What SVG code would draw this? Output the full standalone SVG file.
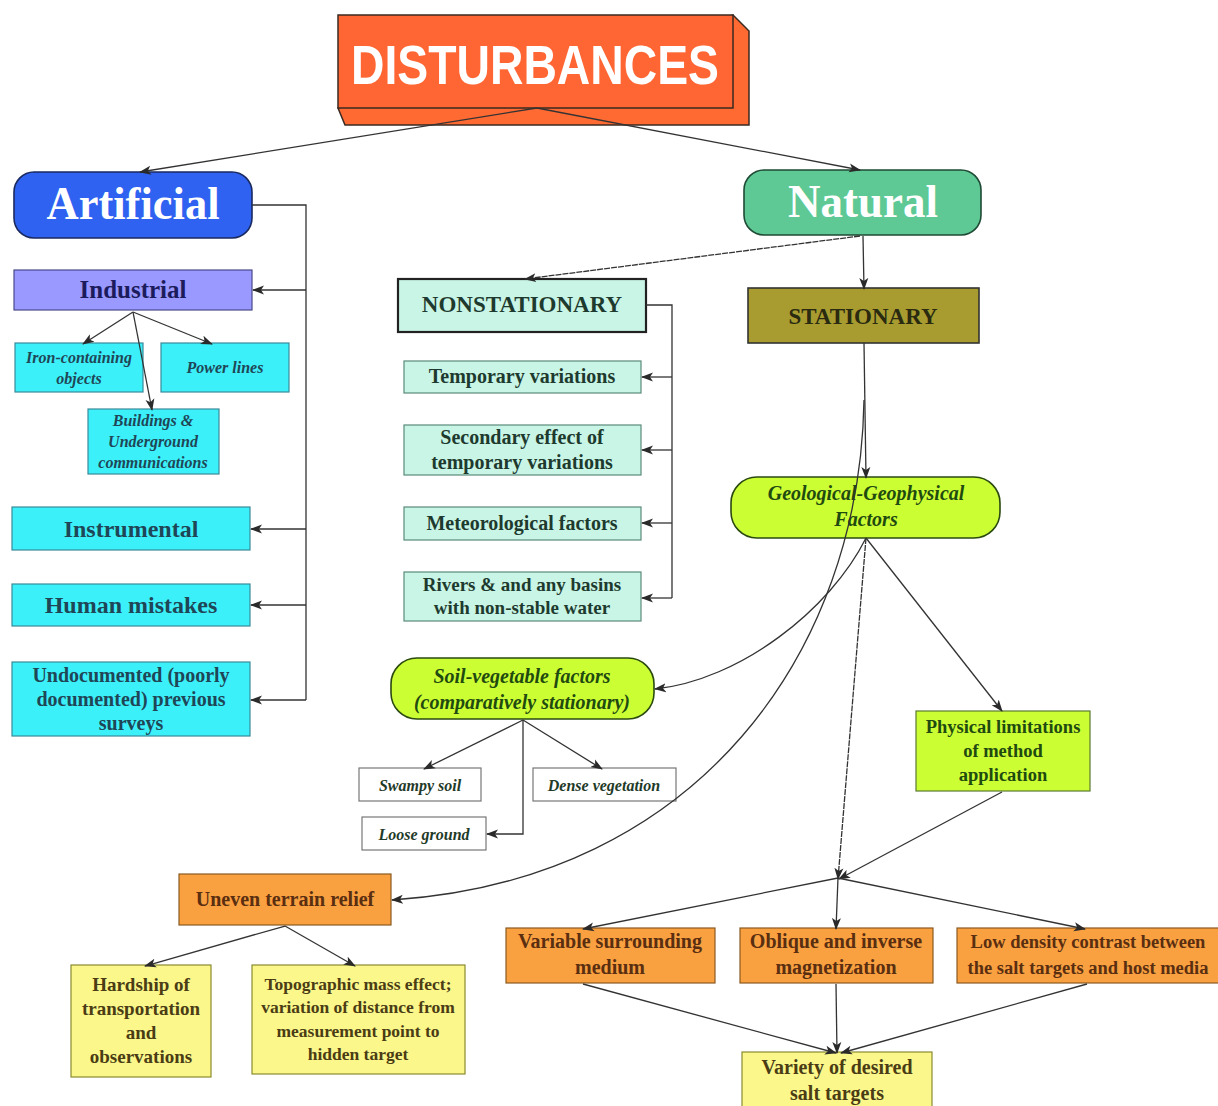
<svg xmlns="http://www.w3.org/2000/svg" width="1218" height="1106" viewBox="0 0 1218 1106">
<defs>
<marker id="arr" markerUnits="userSpaceOnUse" markerWidth="12" markerHeight="10" refX="11" refY="5" orient="auto">
<path d="M0,0.5 L12,5 L0,9.5 L3,5 Z" fill="#2a2a2a"/>
</marker>
</defs>
<style>
text{font-family:"Liberation Serif","Times New Roman",serif;font-weight:bold;text-anchor:middle}
.c{stroke:#333;stroke-width:1.3;fill:none}
.ca{stroke:#333;stroke-width:1.3;fill:none;marker-end:url(#arr)}
.cy{fill:#3cf0fa;stroke:#3a8a9a;stroke-width:1.2}
.cyt{fill:#1f4656}
.mint{fill:#c8f5e6;stroke:#5a8a7a;stroke-width:1.2}
.mintt{fill:#1e3a2e;font-size:20px}
.lime{fill:#ccff33;stroke:#2a4a10;stroke-width:1.6}
.limet{fill:#1f4a10}
.org{fill:#f9a040;stroke:#8a5a20;stroke-width:1.2}
.orgt{fill:#5a2e10;font-size:20px}
.yel{fill:#fbf78a;stroke:#8a8a30;stroke-width:1.2}
.yelt{fill:#4a3c14;font-size:19px}
.wh{fill:#fff;stroke:#777;stroke-width:1.2}
.wht{fill:#1f3a28;font-size:16px;font-style:italic}
</style>

<g id="n-disturbances">
<path d="M733,15 L749,31 L749,125 L345,125 L338,108 Z" fill="#ff6a33" stroke="#3a2a20" stroke-width="1.5"/>
<rect x="338" y="15" width="395" height="93" fill="#ff6633" stroke="#3a2a20" stroke-width="1.5"/>
<text x="535" y="84" style="font-family:'Liberation Sans',Arial,sans-serif;font-size:56px;fill:#fff" textLength="368" lengthAdjust="spacingAndGlyphs">DISTURBANCES</text>
</g>

<g id="n-artificial">
<rect x="14" y="172" width="238" height="66" rx="20" fill="#2f62f0" stroke="#1a2a60" stroke-width="1.6"/>
<text x="133" y="219" style="font-size:46px;fill:#fff" textLength="173" lengthAdjust="spacingAndGlyphs">Artificial</text>
</g>

<g id="n-industrial">
<rect x="14" y="270" width="238" height="40" fill="#9999ff" stroke="#4a4a8a" stroke-width="1.2"/>
<text x="133" y="298" style="font-size:25px;fill:#1c1c5c">Industrial</text>
</g>

<g id="n-iron">
<rect class="cy" x="15" y="343" width="128" height="49"/>
<text class="cyt" x="79" y="363" style="font-size:16px;font-style:italic">Iron-containing</text>
<text class="cyt" x="79" y="384" style="font-size:16px;font-style:italic">objects</text>
</g>

<g id="n-power">
<rect class="cy" x="161" y="343" width="128" height="49"/>
<text class="cyt" x="225" y="373" style="font-size:16px;font-style:italic">Power lines</text>
</g>

<g id="n-buildings">
<rect class="cy" x="88" y="409" width="131" height="65"/>
<text class="cyt" x="153" y="426" style="font-size:16px;font-style:italic">Buildings &amp;</text>
<text class="cyt" x="153" y="447" style="font-size:16px;font-style:italic">Underground</text>
<text class="cyt" x="153" y="468" style="font-size:16px;font-style:italic">communications</text>
</g>

<g id="n-instrumental">
<rect class="cy" x="12" y="507" width="238" height="43"/>
<text class="cyt" x="131" y="537" style="font-size:24px">Instrumental</text>
</g>

<g id="n-human">
<rect class="cy" x="12" y="584" width="238" height="42"/>
<text class="cyt" x="131" y="613" style="font-size:24px">Human mistakes</text>
</g>

<g id="n-undocumented">
<rect class="cy" x="12" y="662" width="238" height="74"/>
<text class="cyt" x="131" y="682" style="font-size:20px">Undocumented (poorly</text>
<text class="cyt" x="131" y="706" style="font-size:20px">documented) previous</text>
<text class="cyt" x="131" y="730" style="font-size:20px">surveys</text>
</g>

<g id="n-natural">
<rect x="744" y="170" width="237" height="65" rx="20" fill="#5ec995" stroke="#1f4a35" stroke-width="1.6"/>
<text x="863" y="217" style="font-size:47px;fill:#fff" textLength="150" lengthAdjust="spacingAndGlyphs">Natural</text>
</g>

<g id="n-nonstationary">
<rect x="398" y="279" width="248" height="53" fill="#c8f5e6" stroke="#222" stroke-width="2.2"/>
<text x="522" y="312" style="font-size:23px;fill:#1e3a2e">NONSTATIONARY</text>
</g>

<g id="n-temporary">
<rect class="mint" x="404" y="361" width="237" height="32"/>
<text class="mintt" x="522" y="383">Temporary variations</text>
</g>

<g id="n-secondary">
<rect class="mint" x="404" y="425" width="237" height="50"/>
<text class="mintt" x="522" y="444">Secondary effect of</text>
<text class="mintt" x="522" y="469">temporary variations</text>
</g>

<g id="n-meteorological">
<rect class="mint" x="404" y="507" width="237" height="33"/>
<text class="mintt" x="522" y="530">Meteorological factors</text>
</g>

<g id="n-rivers">
<rect class="mint" x="404" y="572" width="237" height="49"/>
<text class="mintt" x="522" y="591" style="font-size:19px">Rivers &amp; and any basins</text>
<text class="mintt" x="522" y="614" style="font-size:19px">with non-stable water</text>
</g>

<g id="n-stationary">
<rect x="748" y="288" width="231" height="55" fill="#a89c30" stroke="#333" stroke-width="1.6"/>
<text x="863" y="324" style="font-size:23px;fill:#2a2a10">STATIONARY</text>
</g>

<g id="n-geological">
<rect class="lime" x="731" y="477" width="269" height="61" rx="26"/>
<text class="limet" x="866" y="500" style="font-size:20px;font-style:italic">Geological-Geophysical</text>
<text class="limet" x="866" y="526" style="font-size:20px;font-style:italic">Factors</text>
</g>

<g id="n-soil">
<rect class="lime" x="391" y="658" width="263" height="61" rx="26"/>
<text class="limet" x="522" y="683" style="font-size:20px;font-style:italic">Soil-vegetable factors</text>
<text class="limet" x="522" y="709" style="font-size:20px;font-style:italic">(comparatively stationary)</text>
</g>

<g id="n-swampy">
<rect class="wh" x="359" y="768" width="122" height="33"/>
<text class="wht" x="420" y="791">Swampy soil</text>
</g>

<g id="n-dense">
<rect class="wh" x="533" y="768" width="143" height="33"/>
<text class="wht" x="604" y="791">Dense vegetation</text>
</g>

<g id="n-loose">
<rect class="wh" x="362" y="817" width="124" height="33"/>
<text class="wht" x="424" y="840">Loose ground</text>
</g>

<g id="n-physical">
<rect x="916" y="711" width="174" height="80" fill="#ccff33" stroke="#5a7a30" stroke-width="1.2"/>
<text class="limet" x="1003" y="733" style="font-size:18.5px">Physical limitations</text>
<text class="limet" x="1003" y="757" style="font-size:18.5px">of method</text>
<text class="limet" x="1003" y="781" style="font-size:18.5px">application</text>
</g>

<g id="n-uneven">
<rect class="org" x="179" y="874" width="212" height="51"/>
<text class="orgt" x="285" y="906">Uneven terrain relief</text>
</g>

<g id="n-hardship">
<rect class="yel" x="71" y="965" width="140" height="112"/>
<text class="yelt" x="141" y="991">Hardship of</text>
<text class="yelt" x="141" y="1015">transportation</text>
<text class="yelt" x="141" y="1039">and</text>
<text class="yelt" x="141" y="1063">observations</text>
</g>

<g id="n-topographic">
<rect class="yel" x="252" y="965" width="213" height="109"/>
<text class="yelt" x="358" y="990" style="font-size:17.5px">Topographic mass effect;</text>
<text class="yelt" x="358" y="1013" style="font-size:17.5px">variation of distance from</text>
<text class="yelt" x="358" y="1037" style="font-size:17.5px">measurement point to</text>
<text class="yelt" x="358" y="1060" style="font-size:17.5px">hidden target</text>
</g>

<g id="n-variable">
<rect class="org" x="506" y="928" width="209" height="55"/>
<text class="orgt" x="610" y="948">Variable surrounding</text>
<text class="orgt" x="610" y="974">medium</text>
</g>

<g id="n-oblique">
<rect class="org" x="740" y="928" width="193" height="55"/>
<text class="orgt" x="836" y="948">Oblique and inverse</text>
<text class="orgt" x="836" y="974">magnetization</text>
</g>

<g id="n-lowdensity">
<rect class="org" x="957" y="928" width="265" height="55"/>
<text class="orgt" x="1088" y="948" style="font-size:18.5px">Low density contrast between</text>
<text class="orgt" x="1088" y="974" style="font-size:18.5px">the salt targets and host media</text>
</g>

<g id="n-variety">
<rect class="yel" x="742" y="1052" width="190" height="60"/>
<text class="yelt" x="837" y="1074" style="font-size:20px">Variety of desired</text>
<text class="yelt" x="837" y="1100" style="font-size:20px">salt targets</text>
</g>

<g id="connectors">
<path class="ca" d="M537,108 L140,172"/>
<path class="ca" d="M537,108 L860,170"/>
<path class="c" d="M252,205 H306 V700"/>
<path class="ca" d="M306,290 H253"/>
<path class="ca" d="M306,529 H251"/>
<path class="ca" d="M306,605 H251"/>
<path class="ca" d="M306,700 H251"/>
<path class="ca" d="M133,312 L83,344"/>
<path class="ca" d="M133,312 L212,344"/>
<path class="ca" d="M133,312 L152,410"/>
<path class="ca" d="M860,236 L525,279" stroke-dasharray="6 1"/>
<path class="ca" d="M863,236 L864,289"/>
<path class="c" d="M646,305 H672 V598"/>
<path class="ca" d="M672,377 H642"/>
<path class="ca" d="M672,450 H642"/>
<path class="ca" d="M672,523 H642"/>
<path class="ca" d="M672,598 H642"/>
<path class="ca" d="M864,343 L866,478"/>
<path class="ca" d="M864,400 C860,650 700,880 392,900"/>
<path class="ca" d="M866,538 C830,610 740,680 655,689"/>
<path class="ca" d="M866,538 L838,879" stroke-dasharray="6 1"/>
<path class="ca" d="M866,538 L1002,711"/>
<path class="ca" d="M1002,792 L839,879"/>
<path class="ca" d="M838,878 L583,929"/>
<path class="ca" d="M838,878 L836,929"/>
<path class="ca" d="M838,878 L1085,929"/>
<path class="ca" d="M583,984 L836,1053"/>
<path class="ca" d="M836,984 L837,1053"/>
<path class="ca" d="M1087,984 L841,1053"/>
<path class="ca" d="M523,720 L424,769"/>
<path class="ca" d="M523,720 L602,769"/>
<path class="ca" d="M523,720 V834 H487"/>
<path class="ca" d="M285,926 L145,966"/>
<path class="ca" d="M285,926 L355,966"/>
</g>
</svg>
